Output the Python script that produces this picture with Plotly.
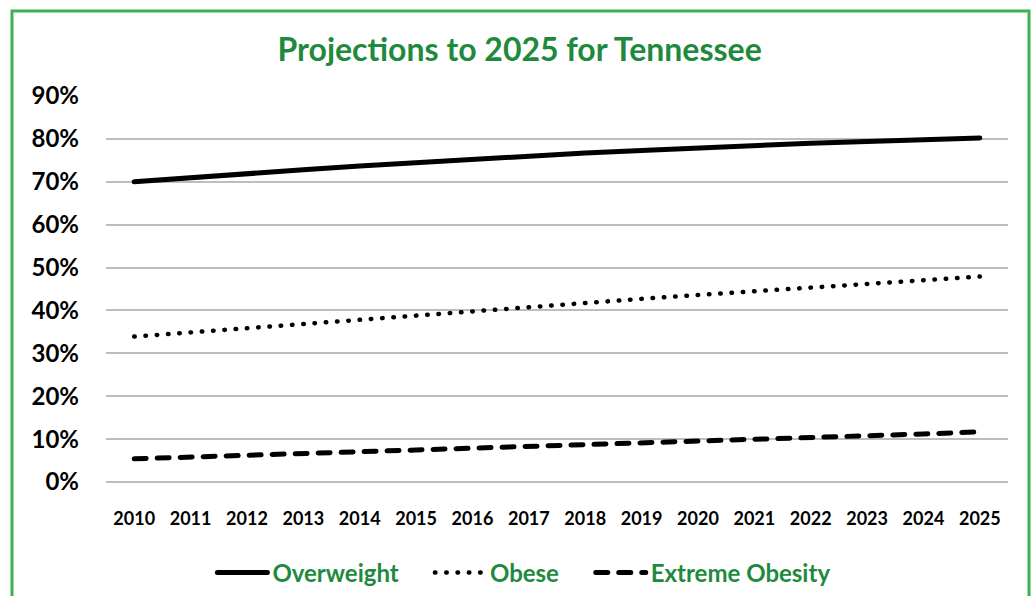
import plotly.graph_objects as go

# Projected prevalence (%) by year
years = [str(y) for y in range(2010, 2026)]
overweight = [70.0, 71.0, 71.9, 72.8, 73.7, 74.5, 75.3, 76.0, 76.7, 77.3, 77.9, 78.5, 79.0, 79.4, 79.8, 80.2]
obese = [33.9, 34.9, 35.9, 36.9, 37.9, 38.9, 39.9, 40.9, 41.8, 42.7, 43.6, 44.5, 45.4, 46.2, 47.1, 47.9]
extreme_obesity = [5.4, 5.8, 6.2, 6.6, 7.0, 7.4, 7.8, 8.2, 8.6, 9.1, 9.5, 9.9, 10.4, 10.8, 11.2, 11.7]
y_ticks = [0, 10, 20, 30, 40, 50, 60, 70, 80, 90]
y_tick_labels = [f"{v}%" for v in y_ticks]

GREEN_TEXT = "#1F8A3D"
GREEN_BORDER = "#3DB153"
FONT = "Lato"

fig = go.Figure()
fig.add_trace(go.Scatter(x=years, y=overweight, mode="lines", name="Overweight",
                         line=dict(color="black", width=5), legend="legend"))
fig.add_trace(go.Scatter(x=years, y=obese, mode="lines", name="Obese",
                         line=dict(color="black", width=4.5, dash="0.5px,10.8px"), legend="legend2"))
fig.add_trace(go.Scatter(x=years, y=extreme_obesity, mode="lines", name="Extreme Obesity",
                         line=dict(color="black", width=5, dash="12px,11px"), legend="legend3"))

legend_font = dict(size=24, color=GREEN_TEXT, family=FONT, weight="bold")


def legend_at(x):
    return dict(orientation="h", xref="container", x=x, xanchor="left", yref="container",
                y=0.0386, yanchor="middle", font=legend_font, itemwidth=50,
                bgcolor="rgba(0,0,0,0)")


fig.update_layout(
    width=1031, height=596,
    margin=dict(l=106, r=23, t=96, b=114, autoexpand=False),
    plot_bgcolor="white", paper_bgcolor="white",
    font=dict(family=FONT, color="black"),
    title=dict(text="<b>Projections to 2025 for Tennessee</b>", x=0.504, xanchor="center",
               y=0.916, yanchor="middle", font=dict(size=32, color=GREEN_TEXT, family=FONT)),
    showlegend=True,
    legend=legend_at(0.206),
    legend2=legend_at(0.417),
    legend3=legend_at(0.573),
    shapes=[dict(type="rect", xref="paper", yref="paper",
                 x0=-0.1042, x1=1.0233, y0=-0.36, y1=1.2202,
                 line=dict(color=GREEN_BORDER, width=3), layer="below")],
)

fig.update_xaxes(type="category", range=[-0.5, 15.5], showgrid=False, showline=False,
                 ticks="", tickfont=dict(size=18, family=FONT, color="black", weight="bold"),
                 ticklabelstandoff=24)
fig.update_yaxes(range=[0, 90], tickvals=y_ticks, ticktext=y_tick_labels, showgrid=True,
                 gridcolor="#BEBEBE", gridwidth=1.5, zeroline=True, zerolinecolor="#BEBEBE",
                 zerolinewidth=1.5, showline=False, ticks="",
                 tickfont=dict(size=24, family=FONT, color="black", weight="bold"),
                 ticklabelstandoff=26)

# Round line caps so the dotted and dashed series render with rounded ends
post = """
function roundCaps(){
  document.querySelectorAll('.scatterlayer path.js-line, .legendlines path').forEach(function(p){
    p.style.strokeLinecap = 'round';
  });
}
roundCaps();
var gd = document.querySelector('.plotly-graph-div');
if (gd && gd.on) { gd.on('plotly_afterplot', roundCaps); }
"""

fig.write_html("out.html", post_script=post)
